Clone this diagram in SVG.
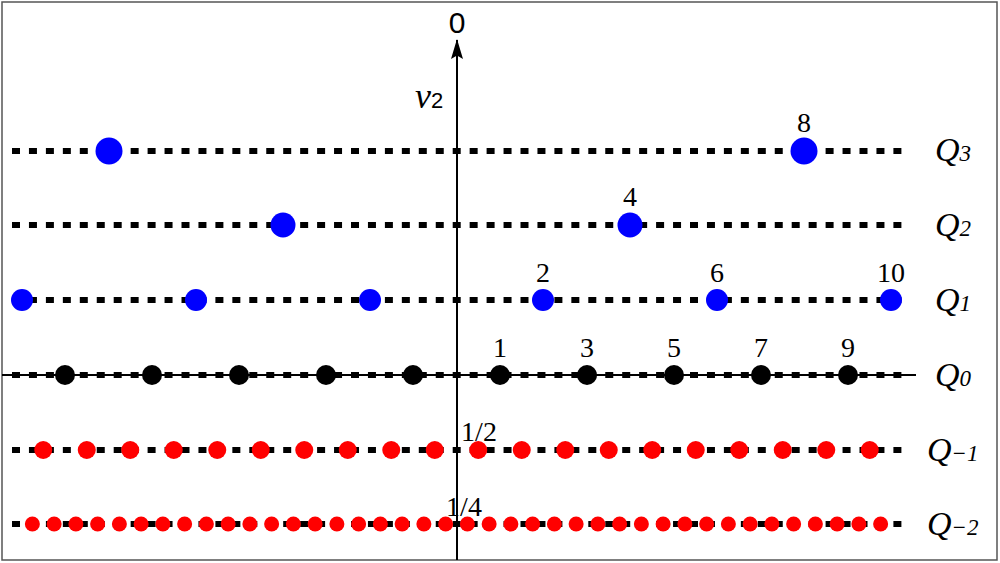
<svg xmlns="http://www.w3.org/2000/svg" width="1000" height="563" viewBox="0 0 1000 563">
<defs>
<style>
.dash{stroke:#000;stroke-width:6;stroke-dasharray:8 8.95;fill:none}
.ax{stroke:#000;stroke-width:2;fill:none}
.b{fill:#0000ff}.k{fill:#000}.r{fill:#ff0000}
.num{font-family:"Liberation Serif",serif;font-size:28px;text-anchor:middle;fill:#000}
.ql{font-family:"Liberation Serif",serif;font-style:italic;font-size:34px;fill:#000}
.qs{font-size:23px}
</style>
<marker id="arr" markerWidth="20" markerHeight="12" refX="19" refY="6" orient="auto" markerUnits="userSpaceOnUse" viewBox="0 0 20 12">
<path d="M0,0 L20,6 L0,12 L3.5,6 Z" fill="#000"/>
</marker>
</defs>
<rect x="2" y="2" width="995" height="558" fill="#fff" stroke="#555" stroke-width="1.5"/>
<g id="connectors">
<line class="ax" x1="2" y1="375" x2="916" y2="375"/>
<line class="dash" x1="12" y1="151" x2="902" y2="151"/>
<line class="dash" x1="12" y1="225" x2="902" y2="225"/>
<line class="dash" x1="12" y1="300" x2="902" y2="300"/>
<line class="dash" x1="12" y1="375" x2="902" y2="375"/>
<line class="dash" x1="12" y1="450" x2="902" y2="450"/>
<line class="dash" x1="12" y1="524" x2="902" y2="524"/>
</g>
<g id="Q3">
<circle class="b" cx="109" cy="151" r="13.5"/><circle class="b" cx="804" cy="151" r="13.5"/>
<text class="num" x="804" y="132">8</text>
</g>
<g id="Q2">
<circle class="b" cx="283" cy="225" r="12.5"/><circle class="b" cx="630" cy="225" r="12.5"/>
<text class="num" x="630" y="206">4</text>
</g>
<g id="Q1">
<circle class="b" cx="22" cy="300" r="11"/><circle class="b" cx="196" cy="300" r="11"/><circle class="b" cx="370" cy="300" r="11"/>
<circle class="b" cx="543" cy="300" r="11"/><circle class="b" cx="717" cy="300" r="11"/><circle class="b" cx="891" cy="300" r="11"/>
<text class="num" x="543" y="282">2</text><text class="num" x="717" y="282">6</text><text class="num" x="891" y="282">10</text>
</g>
<g id="Q0">
<circle class="k" cx="65" cy="375" r="10"/><circle class="k" cx="152" cy="375" r="10"/><circle class="k" cx="239" cy="375" r="10"/>
<circle class="k" cx="326" cy="375" r="10"/><circle class="k" cx="413" cy="375" r="10"/><circle class="k" cx="500" cy="375" r="10"/>
<circle class="k" cx="587" cy="375" r="10"/><circle class="k" cx="674" cy="375" r="10"/><circle class="k" cx="761" cy="375" r="10"/>
<circle class="k" cx="848" cy="375" r="10"/>
<text class="num" x="500" y="357">1</text><text class="num" x="587" y="357">3</text><text class="num" x="674" y="357">5</text>
<text class="num" x="761" y="357">7</text><text class="num" x="848" y="357">9</text>
</g>
<g id="Qm1">
<circle class="r" cx="43.25" cy="450" r="9"/><circle class="r" cx="86.75" cy="450" r="9"/><circle class="r" cx="130.25" cy="450" r="9"/>
<circle class="r" cx="173.75" cy="450" r="9"/><circle class="r" cx="217.25" cy="450" r="9"/><circle class="r" cx="260.75" cy="450" r="9"/>
<circle class="r" cx="304.25" cy="450" r="9"/><circle class="r" cx="347.75" cy="450" r="9"/><circle class="r" cx="391.25" cy="450" r="9"/>
<circle class="r" cx="434.75" cy="450" r="9"/><circle class="r" cx="478.25" cy="450" r="9"/><circle class="r" cx="521.75" cy="450" r="9"/>
<circle class="r" cx="565.25" cy="450" r="9"/><circle class="r" cx="608.75" cy="450" r="9"/><circle class="r" cx="652.25" cy="450" r="9"/>
<circle class="r" cx="695.75" cy="450" r="9"/><circle class="r" cx="739.25" cy="450" r="9"/><circle class="r" cx="782.75" cy="450" r="9"/>
<circle class="r" cx="826.25" cy="450" r="9"/><circle class="r" cx="869.75" cy="450" r="9"/>
<text class="num" x="479" y="441">1/2</text>
</g>
<g id="Qm2">
<circle class="r" cx="32.375" cy="524" r="7.5"/><circle class="r" cx="54.125" cy="524" r="7.5"/><circle class="r" cx="75.875" cy="524" r="7.5"/>
<circle class="r" cx="97.625" cy="524" r="7.5"/><circle class="r" cx="119.375" cy="524" r="7.5"/><circle class="r" cx="141.125" cy="524" r="7.5"/>
<circle class="r" cx="162.875" cy="524" r="7.5"/><circle class="r" cx="184.625" cy="524" r="7.5"/><circle class="r" cx="206.375" cy="524" r="7.5"/>
<circle class="r" cx="228.125" cy="524" r="7.5"/><circle class="r" cx="249.875" cy="524" r="7.5"/><circle class="r" cx="271.625" cy="524" r="7.5"/>
<circle class="r" cx="293.375" cy="524" r="7.5"/><circle class="r" cx="315.125" cy="524" r="7.5"/><circle class="r" cx="336.875" cy="524" r="7.5"/>
<circle class="r" cx="358.625" cy="524" r="7.5"/><circle class="r" cx="380.375" cy="524" r="7.5"/><circle class="r" cx="402.125" cy="524" r="7.5"/>
<circle class="r" cx="423.875" cy="524" r="7.5"/><circle class="r" cx="445.625" cy="524" r="7.5"/><circle class="r" cx="467.375" cy="524" r="7.5"/>
<circle class="r" cx="489.125" cy="524" r="7.5"/><circle class="r" cx="510.875" cy="524" r="7.5"/><circle class="r" cx="532.625" cy="524" r="7.5"/>
<circle class="r" cx="554.375" cy="524" r="7.5"/><circle class="r" cx="576.125" cy="524" r="7.5"/><circle class="r" cx="597.875" cy="524" r="7.5"/>
<circle class="r" cx="619.625" cy="524" r="7.5"/><circle class="r" cx="641.375" cy="524" r="7.5"/><circle class="r" cx="663.125" cy="524" r="7.5"/>
<circle class="r" cx="684.875" cy="524" r="7.5"/><circle class="r" cx="706.625" cy="524" r="7.5"/><circle class="r" cx="728.375" cy="524" r="7.5"/>
<circle class="r" cx="750.125" cy="524" r="7.5"/><circle class="r" cx="771.875" cy="524" r="7.5"/><circle class="r" cx="793.625" cy="524" r="7.5"/>
<circle class="r" cx="815.375" cy="524" r="7.5"/><circle class="r" cx="837.125" cy="524" r="7.5"/><circle class="r" cx="858.875" cy="524" r="7.5"/>
<circle class="r" cx="880.625" cy="524" r="7.5"/>
<text class="num" x="464" y="516">1/4</text>
</g>
<g id="axis">
<line class="ax" x1="457" y1="560" x2="457" y2="40" marker-end="url(#arr)"/>
<text x="457" y="33" font-family="Liberation Sans,sans-serif" font-size="30" text-anchor="middle">0</text>
<text x="415" y="108" font-family="Liberation Serif,serif" font-size="36" font-style="italic">ν<tspan font-family="Liberation Sans,sans-serif" font-style="normal" font-size="22" dx="0">2</tspan></text>
</g>
<g id="labels">
<text class="ql" x="935" y="161">Q<tspan class="qs">3</tspan></text>
<text class="ql" x="935" y="236">Q<tspan class="qs">2</tspan></text>
<text class="ql" x="935" y="311">Q<tspan class="qs">1</tspan></text>
<text class="ql" x="935" y="386">Q<tspan class="qs">0</tspan></text>
<text class="ql" x="927" y="461">Q<tspan class="qs">−1</tspan></text>
<text class="ql" x="927" y="535">Q<tspan class="qs">−2</tspan></text>
</g>
</svg>
